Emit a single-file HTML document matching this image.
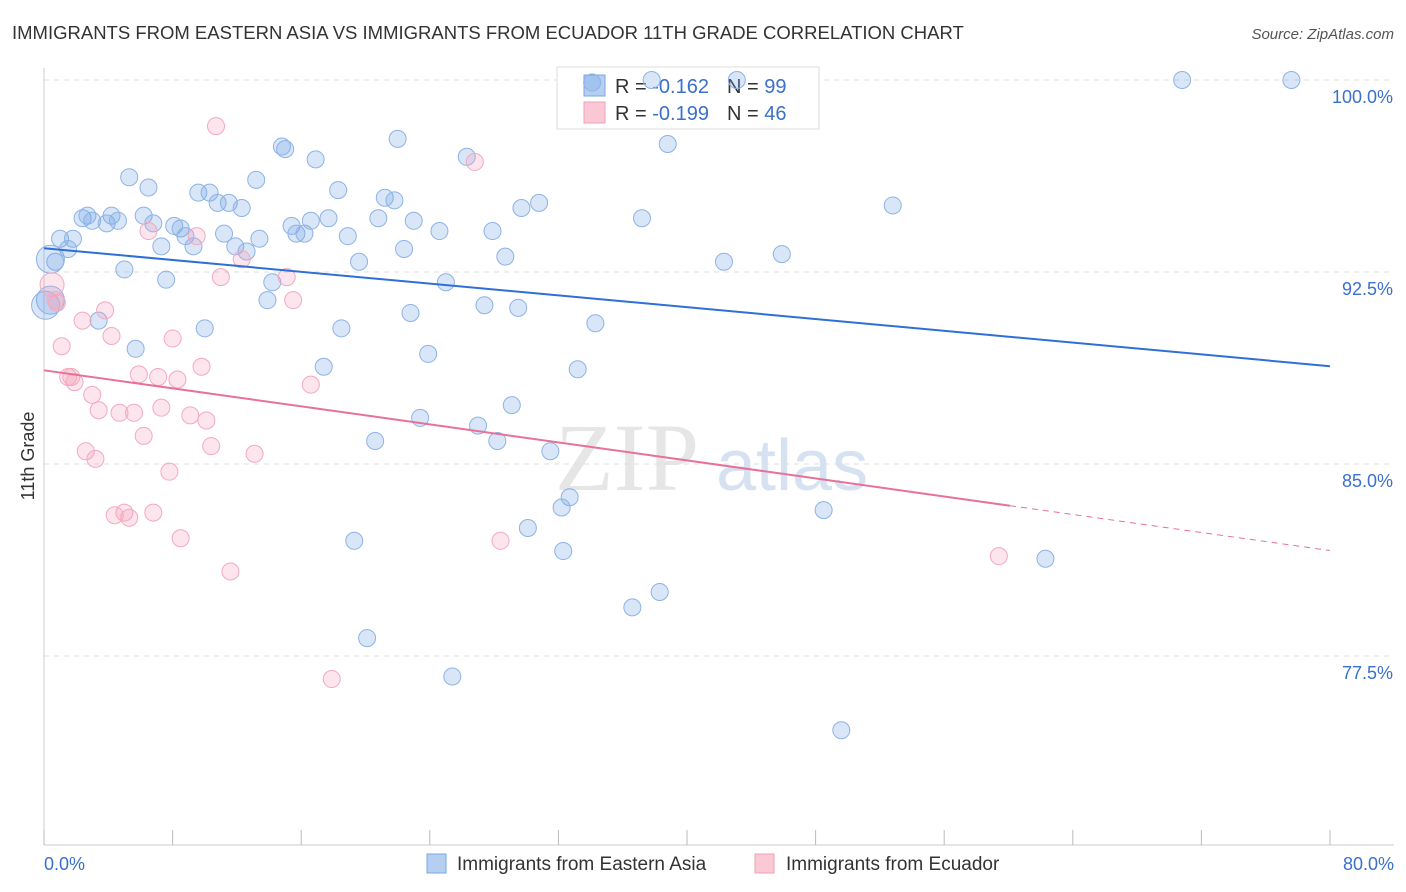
<!DOCTYPE html>
<html><head><meta charset="utf-8"><style>
body{margin:0;background:#fff;font-family:"Liberation Sans",sans-serif;}
</style></head><body>
<svg id="chart" width="1406" height="892" xmlns="http://www.w3.org/2000/svg" style="display:block">
<text x="12" y="39" font-size="18.5" fill="#333">IMMIGRANTS FROM EASTERN ASIA VS IMMIGRANTS FROM ECUADOR 11TH GRADE CORRELATION CHART</text>
<text x="1394" y="39" font-size="15" fill="#555" text-anchor="end" font-style="italic">Source: ZipAtlas.com</text>
<text x="555" y="490" font-size="96" fill="#e6e6e6" font-family="Liberation Serif">ZIP</text>
<text x="716" y="490" font-size="72" fill="#d6e2f2">atlas</text>
<g id="grid"></g><g id="axes"></g>
<g>
<rect x="557" y="67" width="262" height="62" fill="#fff" stroke="#ddd"/>
<rect x="584" y="75" width="21" height="21" fill="#b5cff3" stroke="#7aa7e0"/>
<rect x="584" y="102" width="21" height="21" fill="#fbc8d6" stroke="#f0a0b8"/>
<text x="615" y="93" font-size="20" fill="#333">R = <tspan fill="#3a70cc">-0.162</tspan><tspan dx="18">N = </tspan><tspan fill="#3a70cc">99</tspan></text>
<text x="615" y="120" font-size="20" fill="#333">R = <tspan fill="#3a70cc">-0.199</tspan><tspan dx="18">N = </tspan><tspan fill="#3a70cc">46</tspan></text>
</g>
<g id="pts"></g><g id="trend"></g>
<text transform="translate(34,456) rotate(-90)" font-size="18" fill="#333" text-anchor="middle">11th Grade</text>
<g>
<rect x="427" y="854" width="19" height="19" fill="#b5cff3" stroke="#7aa7e0"/>
<text x="457" y="870" font-size="19" fill="#333">Immigrants from Eastern Asia</text>
<rect x="755" y="854" width="19" height="19" fill="#fbc8d6" stroke="#f0a0b8"/>
<text x="786" y="870" font-size="19" fill="#333">Immigrants from Ecuador</text>
</g>
</svg>
<script>
const yTicks=[100,92.5,85,77.5];
const yTickLabels=["100.0%","92.5%","85.0%","77.5%"];
const xTickLabels=["0.0%","80.0%"];
const blueX=[34.1,37.8,43.1,70.8,77.6,22.0,14.8,15.0,16.9,26.3,38.8,5.3,6.5,13.2,18.3,9.6,10.3,10.8,11.5,12.3,21.2,21.8,30.8,29.7,52.8,2.4,2.7,3.0,4.2,3.9,4.6,6.2,8.1,8.5,6.8,8.8,9.3,7.3,11.2,11.9,12.6,13.4,15.4,15.7,16.2,16.6,17.7,18.9,20.8,23.0,24.6,27.9,37.2,1.0,1.8,1.5,0.7,5.0,7.6,19.6,22.4,28.7,42.3,45.9,25.0,14.2,13.9,27.4,29.5,22.8,34.3,3.4,10.0,18.5,5.7,23.9,17.4,33.2,29.1,23.4,27.0,20.6,28.2,31.5,32.7,32.2,48.5,30.1,19.3,32.3,62.3,38.3,36.6,20.1,25.4,49.6,0.4,0.1,0.4];
const blueY=[99.9,100,100,100,100,97.7,97.4,97.3,96.9,97.0,97.5,96.2,95.8,96.1,95.7,95.6,95.6,95.2,95.2,95.0,95.4,95.3,95.2,95.0,95.1,94.6,94.7,94.5,94.7,94.4,94.5,94.7,94.3,94.2,94.4,93.9,93.5,93.5,94.0,93.5,93.3,93.8,94.3,94.0,94.0,94.5,94.6,93.9,94.6,94.5,94.1,94.1,94.6,93.8,93.8,93.4,92.9,92.6,92.2,92.9,93.4,93.1,92.9,93.2,92.1,92.1,91.4,91.2,91.1,90.9,90.5,90.6,90.3,90.3,89.5,89.3,88.8,88.7,87.3,86.8,86.5,85.9,85.9,85.5,83.7,83.3,83.2,82.5,82.0,81.6,81.3,80.0,79.4,78.2,76.7,74.6,91.4,91.2,93.0];
const pinkX=[10.7,26.8,6.5,9.5,12.3,11.0,15.1,15.5,0.5,0.7,0.8,3.8,2.4,4.2,1.1,8.0,9.8,5.9,7.1,8.3,1.5,1.7,1.9,3.0,16.6,3.4,7.3,4.7,5.6,9.1,10.1,6.2,10.4,13.1,2.6,3.2,7.8,5.0,4.4,5.3,6.8,8.5,28.4,11.6,59.4,17.9];
const pinkY=[98.2,96.8,94.1,93.9,93.0,92.3,92.3,91.4,92.0,91.4,91.3,91.0,90.6,90.0,89.6,89.9,88.8,88.5,88.4,88.3,88.4,88.4,88.2,87.7,88.1,87.1,87.2,87.0,87.0,86.9,86.7,86.1,85.7,85.4,85.5,85.2,84.7,83.1,83.0,82.9,83.1,82.1,82.0,80.8,81.4,76.6];
const blueTrend=[93.43,88.82];
const pinkTrend=[88.66,81.62];
const pinkSolidEnd=60.1;
const NS="http://www.w3.org/2000/svg";
const X=v=>44+v*16.075, Y=v=>80+(100-v)*25.6;
function mk(tag,attrs,parent){const e=document.createElementNS(NS,tag);for(const k in attrs)e.setAttribute(k,attrs[k]);document.getElementById(parent).appendChild(e);return e;}
yTicks.forEach((t,i)=>{
 const l=mk('line',{x1:44,x2:1394,y1:Y(t),y2:Y(t),stroke:'#ddd','stroke-dasharray':'5,5'},'grid');
 
 
 const tx=mk('text',{x:1393,y:Y(t)+23,'font-size':18,fill:'#3a70cc','text-anchor':'end'},'grid');
 tx.textContent=yTickLabels[i];
 
 
});
const ax=mk('line',{x1:44,x2:44,y1:68,y2:845,stroke:'#ccc'},'axes');


const bx=mk('line',{x1:44,x2:1394,y1:845,y2:845,stroke:'#ccc'},'axes');


for(let i=0;i<=10;i++){
 const t=mk('line',{x1:X(i*8),x2:X(i*8),y1:830,y2:845,stroke:'#bbb'},'axes');
 
 
}
[[0,'start',44],[80,'end',1394]].forEach((d,i)=>{
 const t=mk('text',{x:d[2],y:870,'font-size':18,fill:'#3a70cc','text-anchor':d[1]},'axes');
 t.textContent=xTickLabels[i];
 
 
});
blueX.forEach((x,i)=>{
 const big=i>=blueX.length-3;
 const c=mk('circle',{cx:X(x),cy:Y(blueY[i]),r:big?14:8.5,fill:'rgba(120,165,230,0.28)',stroke:'#8db3e6','stroke-width':1},'pts');
 
 
});
pinkX.forEach((x,i)=>{
 const c=mk('circle',{cx:X(x),cy:Y(pinkY[i]),r:i==8?12:8.5,fill:'rgba(245,160,185,0.28)',stroke:'#f2aac0','stroke-width':1},'pts');
 
 
});
const bl=mk('line',{x1:X(0),y1:Y(blueTrend[0]),x2:X(80),y2:Y(blueTrend[1]),stroke:'#2f6fd6','stroke-width':2},'trend');


const pAt=x=>pinkTrend[0]+(pinkTrend[1]-pinkTrend[0])*x/80;
const pl=mk('line',{x1:X(0),y1:Y(pAt(0)),x2:X(pinkSolidEnd),y2:Y(pAt(pinkSolidEnd)),stroke:'#e8709a','stroke-width':2},'trend');


const pd=mk('line',{x1:X(pinkSolidEnd),y1:Y(pAt(pinkSolidEnd)),x2:X(80),y2:Y(pAt(80)),stroke:'#e8709a','stroke-width':1,'stroke-dasharray':'6,5'},'trend');


</script>
</body></html>
